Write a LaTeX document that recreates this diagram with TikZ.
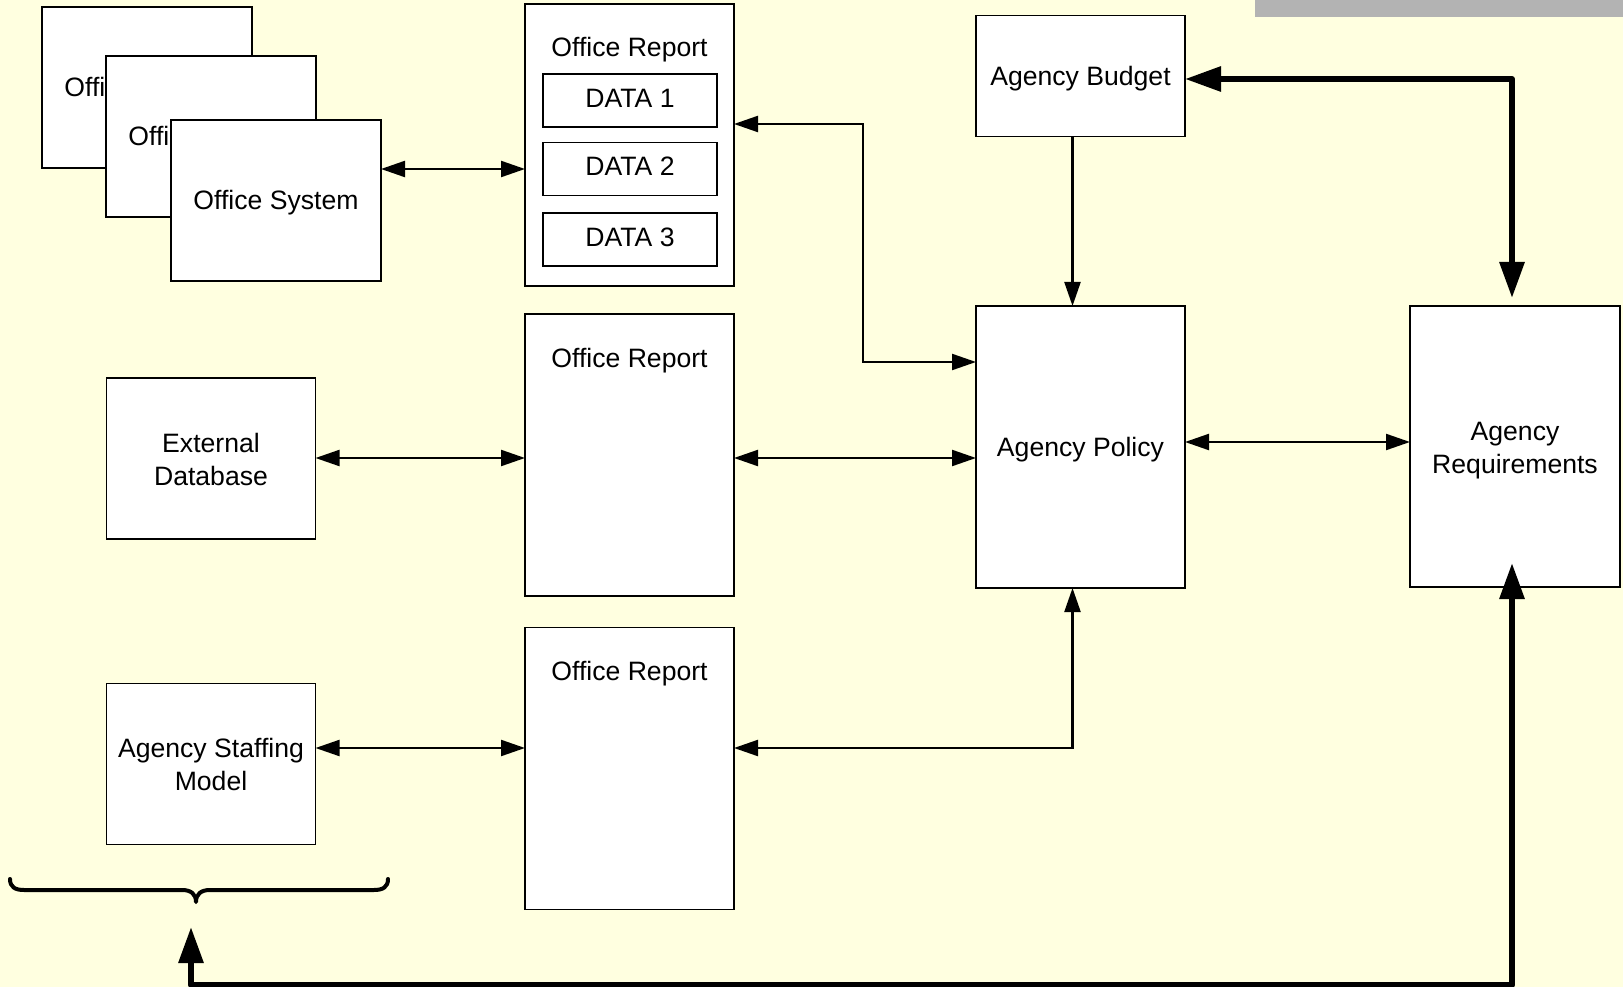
\documentclass[tikz,border=0pt]{standalone}
\usepackage{fontspec}
\setmainfont{Liberation Sans}
\usetikzlibrary{arrows.meta}
\definecolor{paper}{HTML}{FFFFE0}
\definecolor{barfill}{HTML}{B3B3B3}
% fixed ascent/descent for every text line
\newcommand\tstr{\rule[-5.6pt]{0pt}{29.7pt}}
% taller first line for two-line labels
\newcommand\tstrhi{\rule[-5.6pt]{0pt}{31.3pt}}
\begin{document}
\begin{tikzpicture}[x=1pt,y=-1pt,
  txt/.style={font=\fontsize{26.6}{33}\selectfont, execute at begin node=\tstr},
  box/.style={txt, draw=black, fill=white, line width=1.8pt, inner sep=0pt,
    outer sep=0pt, align=center},
  small/.style={box, minimum width=209pt, minimum height=161pt},
  tall/.style={box, minimum width=209pt, minimum height=282pt},
  databox/.style={box, minimum width=174pt, minimum height=53pt, text depth=10.6pt},
  hdr/.style={txt, inner sep=0pt},
  link/.style={line width=2.2pt,
    {Triangle[length=24pt,width=16pt]}-{Triangle[length=24pt,width=16pt]}},
  oneway/.style={line width=2.2pt, -{Triangle[length=24pt,width=16pt]}},
  heavy/.style={line width=6pt, line join=round,
    {Triangle[length=36pt,width=24pt]}-{Triangle[length=36pt,width=24pt]}}
]
% page and frame
\fill[paper] (0,0) rectangle (1623,987);
\useasboundingbox (0,0) rectangle (1623,987);
\fill[barfill] (1255,0) rectangle (1623,17);

% stack of office systems
\node[small, minimum width=210pt] (off1) at (147,87.5) {Office System};
\node[small, minimum width=210pt] (off2) at (211,136.5) {Office System};
\node[small, minimum width=210pt] (offsys) at (276,200.5) {Office System};

% office report with data blocks
\node[tall] (or1) at (629.5,145) {};
\node[hdr] (or1t) at (629.5,47) {Office Report};
\node[databox] (d1) at (630,100.5) {DATA 1};
\node[databox] (d2) at (630,169) {DATA 2};
\node[databox] (d3) at (630,239.5) {DATA 3};

% further office reports
\node[tall] (or2) at (629.5,455) {};
\node[hdr] (or2t) at (629.5,358) {Office Report};
\node[tall] (or3) at (629.5,768.5) {};
\node[hdr] (or3t) at (629.5,671) {Office Report};

% sources on the left
\node[small] (extdb) at (211,458.5) {\tstrhi External\\\tstr Database};
\node[small] (staff) at (211,764) {\tstrhi Agency Staffing\\\tstr Model};

% agency level
\node[box, minimum width=209pt, minimum height=121pt] (budget) at (1080.5,76) {Agency Budget};
\node[tall] (policy) at (1080.5,447) {Agency Policy};
\node[box, minimum width=210pt, minimum height=281pt] (req) at (1515,446.5) {\tstrhi Agency\\\tstr Requirements};

% routing points
\coordinate (j1) at (863,124);
\coordinate (j2) at (863,362);
\coordinate (row2) at (0,458);
\coordinate (row2b) at (0,442);
\coordinate (col) at (1072.5,0);
\coordinate (j3) at (1072.5,748);
\coordinate (tc) at (1512,79);
\coordinate (bc) at (1512,985);
\coordinate (bstart) at (191,927);

% thin connectors
\draw[link] (offsys.east |- d2.west) -- (or1.west |- d2.west);
\draw[link] (or1.east |- j1) -- (j1) -- (j2) -- (policy.west |- j2);
\draw[link] (extdb.east |- row2) -- (or2.west |- row2);
\draw[link] (or2.east |- row2) -- (policy.west |- row2);
\draw[link] (policy.east |- row2b) -- (req.west |- row2b);
\draw[oneway] (budget.south -| col) -- (policy.north -| col);
\draw[link] (staff.east |- j3) -- (or3.west |- j3);
\draw[link] (or3.east |- j3) -- (j3) -- (policy.south -| j3);

% heavy feedback loops
\draw[heavy, shorten >=8pt] (budget.east |- tc) -- (tc) -- (req.north -| tc);
\draw[heavy, shorten >=-24pt] (bstart) |- (bc) -- (req.south -| bc);

% brace over the source group
\draw[line width=4pt, line cap=round, line join=round]
  (10,879) .. controls (10,887) and (15,890) .. (24,890) -- (182,890)
  .. controls (191,890) and (196,894) .. (196,902)
  .. controls (196,894) and (201,890) .. (210,890) -- (374,890)
  .. controls (383,890) and (388,887) .. (388,879);
\end{tikzpicture}
\end{document}
